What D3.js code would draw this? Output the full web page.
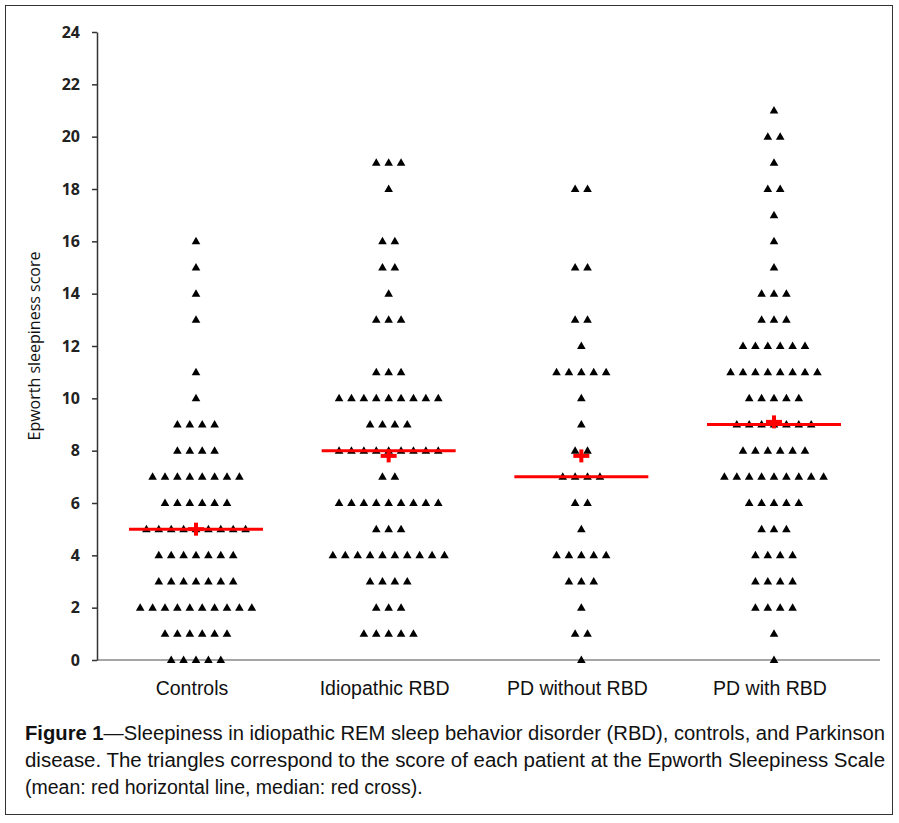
<!DOCTYPE html>
<html>
<head>
<meta charset="utf-8">
<script src="https://cdn.jsdelivr.net/npm/d3@7"></script>
<style>
  body { margin: 0; background: #fff; }
  svg { display: block; }
</style>
</head>
<body>
<svg id="chart" width="899" height="823"></svg>
<script>
// groups along the x axis
var categories = ["Controls", "Idiopathic RBD", "PD without RBD", "PD with RBD"];

// [score, number of patients] for each group
var controls = [[16,1],[15,1],[14,1],[13,1],[11,1],[10,1],[9,4],[8,4],[7,8],[6,6],[5,9],[4,7],[3,7],[2,10],[1,6],[0,5]];
var idiopathicRBD = [[19,3],[18,1],[16,2],[15,2],[14,1],[13,3],[11,3],[10,9],[9,4],[8,9],[7,2],[6,9],[5,3],[4,10],[3,4],[2,3],[1,5]];
var pdWithoutRBD = [[18,2],[15,2],[13,2],[12,1],[11,5],[10,1],[9,1],[8,2],[7,4],[6,2],[5,1],[4,5],[3,3],[2,1],[1,2],[0,1]];
var pdWithRBD = [[21,1],[20,2],[19,1],[18,2],[17,1],[16,1],[15,1],[14,3],[13,3],[12,6],[11,8],[10,5],[9,7],[8,6],[7,9],[6,5],[5,3],[4,4],[3,4],[2,4],[1,1],[0,1]];
var groups = [controls, idiopathicRBD, pdWithoutRBD, pdWithRBD];

// red horizontal line and red cross, per group
var lineValues = [5, 8, 7, 9];
var crossValues = [5.0, 7.8, 7.8, 9.1];

var yTicks = [0, 2, 4, 6, 8, 10, 12, 14, 16, 18, 20, 22, 24];

var svg = d3.select("#chart");

// outer frame
svg.append("rect")
  .attr("x", 5.5).attr("y", 5.5)
  .attr("width", 887).attr("height", 809)
  .attr("fill", "none")
  .attr("stroke", "#333")
  .attr("stroke-width", 1);

var y = d3.scaleLinear().domain([0, 24]).range([660, 32]);
var x = d3.scalePoint().domain(categories).range([196, 774]);
var step = 12.4;      // horizontal gap between triangles in a row
var halfLine = 67;    // half width of the red line

// x axis (grey baseline)
svg.append("line")
  .attr("x1", 97).attr("x2", 880)
  .attr("y1", y(0)).attr("y2", y(0))
  .attr("stroke", "#a6a6a6")
  .attr("stroke-width", 2);

// y axis
var yAxis = svg.append("g")
  .attr("transform", "translate(97,0)")
  .call(d3.axisLeft(y).tickValues(yTicks).tickSize(5).tickSizeOuter(0).tickPadding(12));
yAxis.select(".domain").attr("stroke", "#333").attr("stroke-width", 1.5);
yAxis.selectAll(".tick line").attr("stroke", "#333").attr("stroke-width", 1.5);
yAxis.selectAll(".tick text")
  .attr("font-family", "'Open Sans', sans-serif")
  .attr("font-weight", 700)
  .attr("font-size", 16)
  .attr("fill", "#222");

svg.append("text")
  .attr("transform", "translate(40," + y(12) + ") rotate(-90)")
  .attr("text-anchor", "middle")
  .attr("font-family", "'Open Sans', sans-serif")
  .attr("font-size", 16)
  .attr("fill", "#111")
  .text("Epworth sleepiness score");

// category labels
svg.selectAll(".cat")
  .data(categories)
  .enter()
  .append("text")
    .attr("class", "cat")
    .attr("x", function(d){ return x(d) - 4 })
    .attr("y", 695)
    .attr("text-anchor", "middle")
    .attr("font-family", "'Liberation Sans', Arial, sans-serif")
    .attr("font-size", 19.5)
    .attr("fill", "#111")
    .text(function(d){ return d });

// one point per patient, rows centred on the group
var points = [];
groups.forEach(function(rows, gi) {
  rows.forEach(function(r) {
    for (var i = 0; i < r[1]; i++) {
      points.push({ cat: categories[gi], score: r[0], offset: (i - (r[1] - 1) / 2) * step });
    }
  });
});

var tri = d3.symbol().type(d3.symbolTriangle).size(32);
svg.selectAll(".pt")
  .data(points)
  .enter()
  .append("path")
    .attr("class", "pt")
    .attr("d", tri)
    .attr("transform", function(d){ return "translate(" + (x(d.cat) + d.offset) + "," + (y(d.score) + 0.5) + ")" })
    .attr("fill", "#000");

// red lines
svg.selectAll(".mline")
  .data(categories)
  .enter()
  .append("line")
    .attr("x1", function(d){ return x(d) - halfLine })
    .attr("x2", function(d){ return x(d) + halfLine })
    .attr("y1", function(d, i){ return y(lineValues[i]) })
    .attr("y2", function(d, i){ return y(lineValues[i]) })
    .attr("stroke", "#ff0000")
    .attr("stroke-width", 3);

// red crosses
var crosses = svg.selectAll(".cross")
  .data(categories)
  .enter()
  .append("g")
    .attr("transform", function(d, i){ return "translate(" + x(d) + "," + y(crossValues[i]) + ")" });
crosses.append("line")
  .attr("x1", -8).attr("x2", 8).attr("y1", 0).attr("y2", 0)
  .attr("stroke", "#ff0000").attr("stroke-width", 4);
crosses.append("line")
  .attr("x1", 0).attr("x2", 0).attr("y1", -6.5).attr("y2", 6.5)
  .attr("stroke", "#ff0000").attr("stroke-width", 4);

// caption
var capFont = "'Liberation Sans', Arial, sans-serif";
var cap1 = svg.append("text")
  .attr("x", 25).attr("y", 740)
  .attr("font-family", capFont)
  .attr("font-size", 19.5)
  .attr("fill", "#111")
  .attr("textLength", 860)
  .attr("lengthAdjust", "spacingAndGlyphs");
cap1.append("tspan").attr("font-weight", "bold").text("Figure 1");
cap1.append("tspan").text("\u2014Sleepiness in idiopathic REM sleep behavior disorder (RBD), controls, and Parkinson");

svg.append("text")
  .attr("x", 25).attr("y", 767)
  .attr("font-family", capFont)
  .attr("font-size", 19.5)
  .attr("fill", "#111")
  .attr("textLength", 860)
  .attr("lengthAdjust", "spacingAndGlyphs")
  .text("disease. The triangles correspond to the score of each patient at the Epworth Sleepiness Scale");

svg.append("text")
  .attr("x", 25).attr("y", 794)
  .attr("font-family", capFont)
  .attr("font-size", 19.5)
  .attr("fill", "#111")
  .text("(mean: red horizontal line, median: red cross).");
</script>
</body>
</html>
